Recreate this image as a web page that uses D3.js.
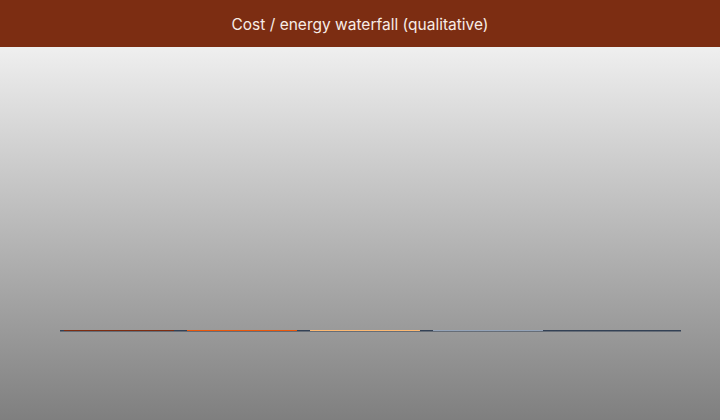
<!DOCTYPE html>
<html>
<head>
<meta charset="utf-8">
<script src="https://cdn.jsdelivr.net/npm/d3@7"></script>
<style>
  html, body { margin: 0; padding: 0; }
  body { width: 720px; height: 420px; overflow: hidden; }
</style>
</head>
<body>
<div id="chart"></div>
<script>
// qualitative waterfall: steps have no magnitude, so bars collapse to the baseline
const categories = ["Baseline", "Materials", "Labour", "Energy", "Total"];
const deltas = [0, 0, 0, 0, 0];
const colors = ["#7c2d12", "#ea580c", "#fdba74", "#94a3b8", "#334155"];
const title = "Cost / energy waterfall (qualitative)";

const width = 720, height = 420, headerH = 47;
const margin = { top: 60, left: 64, right: 54, bottom: 89 };

const svg = d3.select("#chart")
  .append("svg")
  .attr("width", width)
  .attr("height", height);

const grad = svg.append("defs").append("linearGradient")
  .attr("id", "bg")
  .attr("x1", 0).attr("y1", 0).attr("x2", 0).attr("y2", 1);
grad.append("stop").attr("offset", "0%").attr("stop-color", "#efefef");
grad.append("stop").attr("offset", "100%").attr("stop-color", "#7f7f7f");

svg.append("rect")
  .attr("y", headerH)
  .attr("width", width)
  .attr("height", height - headerH)
  .attr("fill", "url(#bg)");

svg.append("rect")
  .attr("width", width)
  .attr("height", headerH)
  .attr("fill", "#7c2d12");

svg.append("text")
  .attr("x", width / 2)
  .attr("y", 30)
  .attr("text-anchor", "middle")
  .style("font-family", "Inter, 'Noto Sans', sans-serif")
  .style("font-size", "15.5px")
  .style("fill", "#f7ece6")
  .text(title);

// running totals
let run = 0;
const steps = categories.map((c, i) => {
  const start = i === categories.length - 1 ? 0 : run;
  const end = i === categories.length - 1 ? run : run + deltas[i];
  if (i !== categories.length - 1) run = end;
  return { cat: c, start: start, end: end, color: colors[i] };
});

const x = d3.scaleBand()
  .domain(categories)
  .range([margin.left, width - margin.right])
  .paddingInner(0.106)
  .paddingOuter(0);

const maxVal = d3.max(steps, d => Math.max(d.start, d.end)) || 1;
const y = d3.scaleLinear()
  .domain([0, maxVal])
  .range([height - margin.bottom, margin.top]);

// baseline
svg.append("line")
  .attr("x1", 60)
  .attr("x2", 681)
  .attr("y1", y(0) - 0.25)
  .attr("y2", y(0) - 0.25)
  .attr("stroke", "#334155")
  .attr("stroke-width", 1.5);

svg.append("g")
  .selectAll("rect")
  .data(steps)
  .enter()
  .append("rect")
  .attr("x", d => x(d.cat))
  .attr("width", x.bandwidth())
  .attr("y", d => Math.min(y(d.start), y(d.end)) - 1)
  .attr("height", d => Math.max(1, Math.abs(y(d.start) - y(d.end))))
  .attr("fill", d => d.color);
</script>
</body>
</html>
